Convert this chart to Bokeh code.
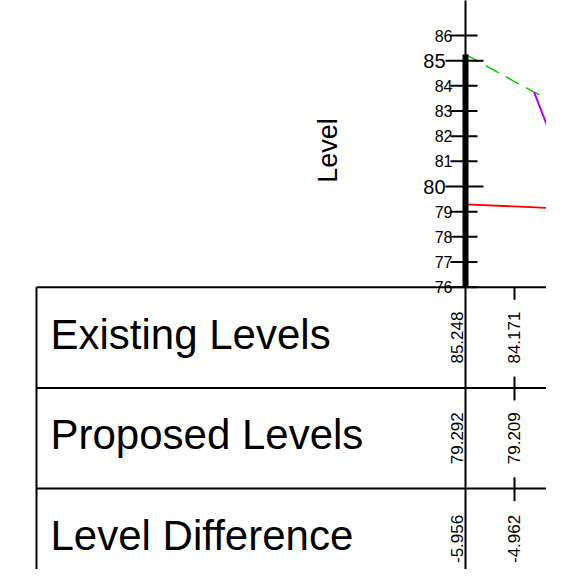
from bokeh.plotting import figure
from bokeh.models import Range1d
from bokeh.core.properties import value
from bokeh.embed import file_html
from bokeh.resources import INLINE
import math

# ---- data ----
chainage = [0, 10, 20]
existing = [85.248, 84.171, 83.123]
proposed = [79.292, 79.209, 79.125]
difference = [-5.956, -4.962, -3.998]
batter_chainage = [14.0, 23.2]
batter_level = [83.75, 79.15]
level_ticks = [76, 77, 78, 79, 80, 81, 82, 83, 84, 85, 86]
major_ticks = [80, 85]
row_labels = ["Existing Levels", "Proposed Levels", "Level Difference"]
row_tops = [76, 72, 68]
row_height = 4

FONT = value("Liberation Sans")
PX = 4.9     # px per chainage unit
PY = 25.17   # px per level unit

W, H = 546, 569
x0_pix, y0_pix = 465.0, 286.7  # canvas position of (0, 76)
x_left = -x0_pix / PX
x_right = (W - x0_pix) / PX
y_top = 76 + y0_pix / PY
y_bot = 76 - (H - y0_pix) / PY

p = figure(width=W, height=H, output_backend="svg", toolbar_location=None,
           x_range=Range1d(x_left, x_right), y_range=Range1d(y_bot, y_top),
           min_border=0, min_border_left=0, min_border_right=0,
           min_border_top=0, min_border_bottom=0)
p.xaxis.visible = False
p.yaxis.visible = False
p.grid.visible = False
p.outline_line_color = None
p.background_fill_color = "white"
p.border_fill_color = "white"

# ---- profile lines ----
p.line(chainage, proposed, line_color="#ff0000", line_width=1.8)
p.line(chainage, existing, line_color="#00cc00", line_width=1.5, line_dash="15 8")
p.line(batter_chainage, batter_level, line_color="#aa00ff", line_width=2)

# ---- level axis ----
minor = [t for t in level_ticks if t not in major_ticks]
p.segment(x0=[-15 / PX] * len(minor), x1=[12 / PX] * len(minor), y0=minor, y1=minor,
          line_color="black", line_width=2)
p.segment(x0=[-20 / PX] * len(major_ticks), x1=[18 / PX] * len(major_ticks),
          y0=major_ticks, y1=major_ticks, line_color="black", line_width=2)
p.text(x=[0] * len(minor), y=minor, text=[str(t) for t in minor], x_offset=-13,
       text_align="right", text_baseline="middle", text_font=FONT,
       text_font_size="16px", text_color="black")
p.text(x=[0] * len(major_ticks), y=major_ticks, text=[str(t) for t in major_ticks],
       x_offset=-20, text_align="right", text_baseline="middle", text_font=FONT,
       text_font_size="20px", text_color="black")
# thin axis line (full height) and thick line to existing level at first station
p.segment(x0=[0], x1=[0], y0=[y_bot - 1], y1=[y_top + 1], line_color="black", line_width=2)
p.segment(x0=[chainage[0]], x1=[chainage[0]], y0=[level_ticks[0]], y1=[existing[0]],
          line_color="black", line_width=6)
p.text(x=[-137.5 / PX], y=[81.43], text=["Level"], angle=math.pi / 2,
       text_align="center", text_baseline="middle", text_font=FONT,
       text_font_size="27px", text_color="black")

# ---- table ----
table_left = -429 / PX
bounds = row_tops + [row_tops[-1] - row_height]
p.segment(x0=[table_left] * len(bounds), x1=[x_right + 5] * len(bounds),
          y0=bounds, y1=bounds, line_color="black", line_width=2)
p.segment(x0=[table_left], x1=[table_left], y0=[bounds[0]], y1=[y_bot - 1],
          line_color="black", line_width=2)
p.text(x=[table_left] * len(row_labels), y=row_tops, text=row_labels,
       x_offset=14, y_offset=47, text_align="left", text_baseline="middle",
       text_font=FONT, text_font_size="42px", text_color="black")

# station lines in table (interrupted around the values)
sx0, sy0, sy1 = [], [], []
for c in chainage[1:]:
    for b in bounds:
        sx0.append(c)
        sy0.append(min(b + 0.45, bounds[0]))
        sy1.append(b - 0.5)
p.segment(x0=sx0, x1=sx0, y0=sy0, y1=sy1, line_color="black", line_width=2)

rows = [existing, proposed, difference]
offs = [-8.5 if i == 0 else -0.5 for i in range(len(chainage))]
for top, vals in zip(row_tops, rows):
    p.text(x=chainage, y=[top - row_height / 2] * len(chainage),
           text=[f"{v:.3f}" for v in vals], x_offset=offs, angle=math.pi / 2,
           text_align="center", text_baseline="middle", text_font=FONT,
           text_font_size="17px", text_color="black")

open("out.html", "w").write(file_html(p, INLINE))
